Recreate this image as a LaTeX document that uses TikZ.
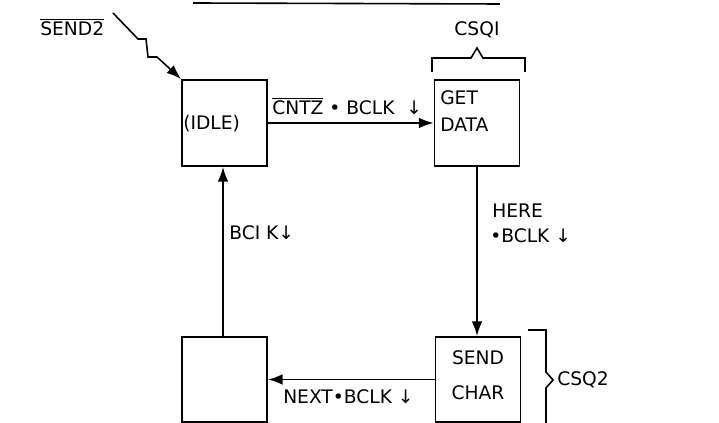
\documentclass[tikz,border=0pt]{standalone}
\usepackage{fontspec}
\setmainfont{DejaVu Sans}
\usetikzlibrary{arrows.meta}
\tikzset{
  statebox/.style={draw, line width=1.4pt, minimum width=63.75pt, minimum height=64.5pt, inner sep=0pt},
  conn/.style={line width=1.2pt, -{Latex[length=11pt,width=8pt]}},
  plain/.style={line width=1.2pt},
  lbl/.style={font=\fontsize{14}{16}\selectfont, inner sep=0pt},
}
\begin{document}
\begin{tikzpicture}[x=0.75pt,y=-0.75pt]
\useasboundingbox (0,0) rectangle (719,423);
% boxes
\node[statebox] (idle) at (224.5,123) {};
\node[statebox] (get) at (477,123) {};
\node[statebox, minimum height=63.75pt] (send) at (478,379.5) {};
\node[statebox, minimum height=63.75pt] (empty) at (224.5,379.5) {};
% texts in boxes
\node[lbl, anchor=west] (tidle) at (183,124) {(IDLE)};
\node[lbl, anchor=west] (tget) at (440,98) {GET};
\node[lbl, anchor=west] (tdata) at (440,125) {DATA};
\node[lbl] (tsend) at (478,358) {SEND};
\node[lbl] (tchar) at (478,393) {CHAR};
% connectors
\draw[conn] (idle) -- (get);
\draw[conn] (get.south) -- (get.south |- send.north);
\draw[conn] (send) -- (empty);
\draw[conn] (empty.north -| 223,0) -- (idle.south -| 223,0);
% lightning arrow
\coordinate (zs) at (113,13);
\draw[conn] (zs) -- (138,39) -- (146,39) -- (148,57) -- (157,57) -- (idle.north west);
% labels
\node[lbl, anchor=west] (lsend2) at (40,27) {$\overline{\hbox{SEND2}}$};
\node[lbl, anchor=west] (lcntz) at (272,106) {$\overline{\hbox{CNTZ}}$ • BCLK \ ↓};
\node[lbl, anchor=west] (lhere) at (492,211) {HERE};
\node[lbl, anchor=west] (lbclk) at (490,236) {•BCLK ↓};
\node[lbl, anchor=west] (lbci) at (229,233) {BCI K↓};
\node[lbl, anchor=west] (lnext) at (283,397) {NEXT•BCLK ↓};
\node[lbl] (lcsq1) at (477,30) {CSQI};
\node[lbl, anchor=west] (lcsq2) at (557,380) {CSQ2};
% brackets
\draw[plain] (432,72) -- (432,58) -- (471,58) -- (477,48) -- (483,58) -- (525,58) -- (525,72);
\draw[plain] (528,330) -- (546,330) -- (546,372) -- (553,380) -- (546,388) -- (546,423);
% top line
\draw[plain] (193,3) -- (500,4);
\end{tikzpicture}
\end{document}
